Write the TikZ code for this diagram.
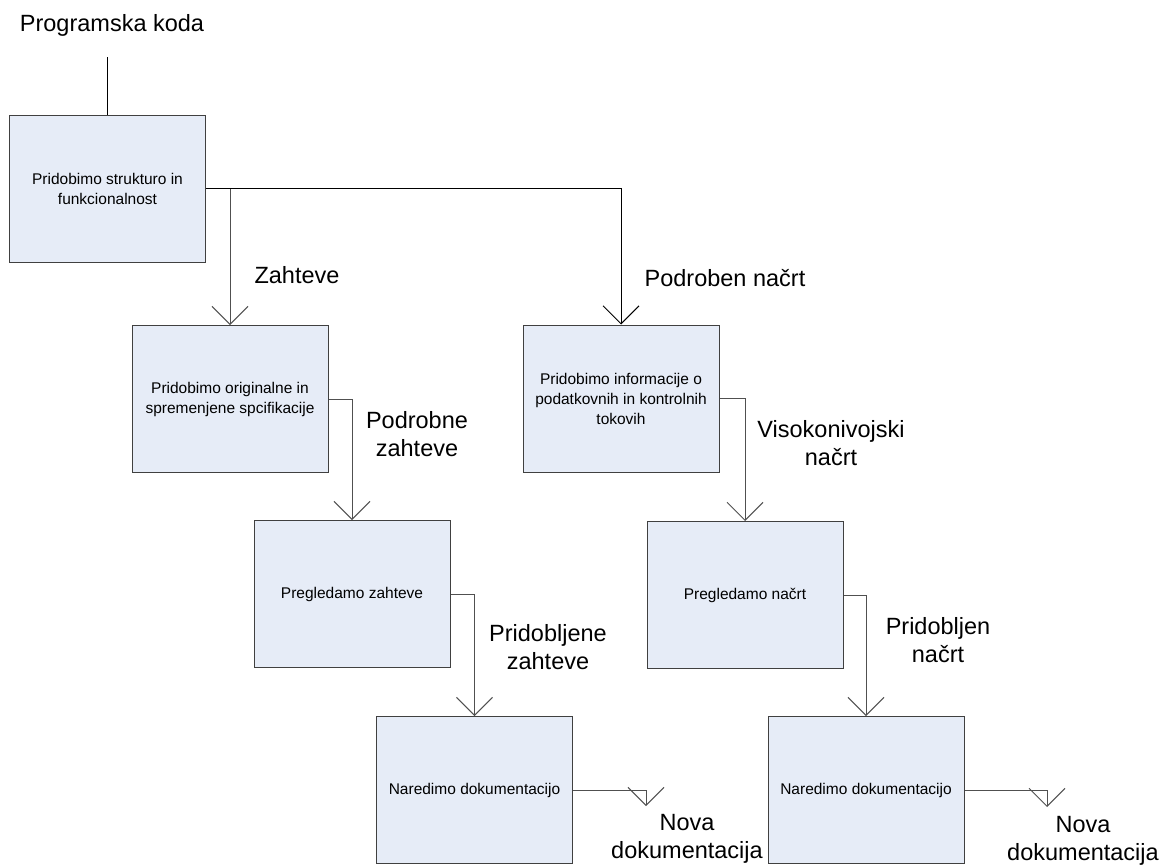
\documentclass[tikz,border=0pt]{standalone}
\usepackage{fontspec}
\setmainfont{Liberation Sans}
\usetikzlibrary{arrows.meta}
\definecolor{boxfill}{HTML}{E6ECF7}
\definecolor{boxline}{HTML}{404040}
\definecolor{conn}{HTML}{505050}
\begin{document}
\begin{tikzpicture}[x=1pt,y=-1pt,
  proc/.style={draw=boxline, fill=boxfill, line width=1pt, minimum width=196pt, minimum height=147pt, inner sep=0pt, align=center, font=\fontsize{15.5}{20}\selectfont},
  lbl/.style={align=center, inner sep=0pt, font=\fontsize{23.5}{28}\selectfont},
  flow/.style={draw=conn, line width=1pt, -{Straight Barb[length=18pt,width=36pt,line width=1pt]}},
]
\useasboundingbox (0,0) rectangle (1160,865);
\fill[white] (0,0) rectangle (1160,865);

\node[proc] (A) at (107.5,188.5) {Pridobimo strukturo in\\funkcionalnost};
\node[proc] (B) at (230,399) {Pridobimo originalne in\\spremenjene spcifikacije};
\node[proc] (C) at (352,594) {Pregledamo zahteve};
\node[proc] (D) at (621,398.5) {Pridobimo informacije o\\podatkovnih in kontrolnih\\tokovih};
\node[proc] (E) at (474.5,790) {Naredimo dokumentacijo};
\node[proc] (F) at (745,595) {Pregledamo načrt};
\node[proc] (G) at (866,790) {Naredimo dokumentacijo};

\node[lbl] (pk) at (112,25) {Programska koda};
\coordinate (pk0) at (107.5,57);
\draw[black, line width=1pt] (pk0) -- (A.north);

\draw[flow] (A.east) -| (B.north);
\draw[flow, draw=black] (A.east) -| (D.north);
\draw[flow] (B.east) -| (C.north);
\draw[flow] (C.east) -| (E.north);
\draw[flow] (D.east) -| (F.north);
\draw[flow] (F.east) -| (G.north);
\coordinate (e1) at (646,806);
\coordinate (g1) at (1047,807);
\draw[flow] (E.east) -| (e1);
\draw[flow] (G.east) -| (g1);

\node[lbl] (l1) at (297,275) {Zahteve};
\node[lbl] (l2) at (725,278) {Podroben načrt};
\node[lbl] (l3) at (417,434) {Podrobne\\zahteve};
\node[lbl] (l4) at (831,443) {Visokonivojski\\načrt};
\node[lbl] (l5) at (548,647) {Pridobljene\\zahteve};
\node[lbl] (l6) at (938,640) {Pridobljen\\načrt};
\node[lbl] (l7) at (687,839) {Nova\\dokumentacija};
\node[lbl] (l8) at (1083,841) {Nova\\dokumentacija};
\end{tikzpicture}
\end{document}
